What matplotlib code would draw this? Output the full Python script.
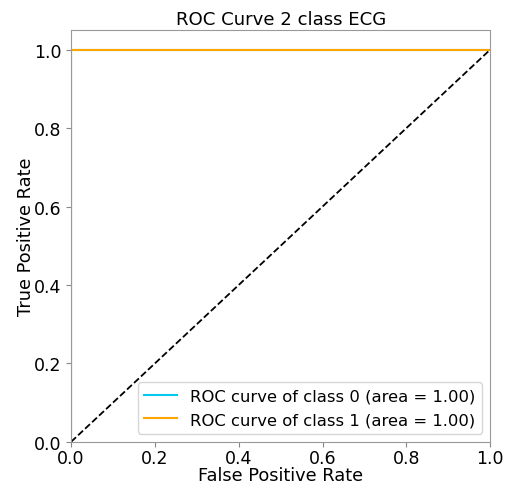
import numpy as np
import matplotlib.pyplot as plt

# ROC points for each class
fpr_class0 = [0.0, 0.0, 1.0]
tpr_class0 = [0.0, 1.0, 1.0]
fpr_class1 = [0.0, 0.0, 1.0]
tpr_class1 = [0.0, 1.0, 1.0]
auc_scores = [1.00, 1.00]
colors = ['#00c8f0', 'orange']

plt.rcParams['font.size'] = 12.5

fig = plt.figure(figsize=(5.08, 4.85), dpi=100)
ax = fig.add_axes([0.140, 0.087, 0.825, 0.849])

curves = [(fpr_class0, tpr_class0), (fpr_class1, tpr_class1)]
for i, (fpr, tpr) in enumerate(curves):
    ax.plot(fpr, tpr, color=colors[i], lw=1.5,
            label='ROC curve of class {0} (area = {1:0.2f})'.format(i, auc_scores[i]))

ax.plot([0, 1], [0, 1], 'k--', lw=1.3)
ax.set_xlim([0.0, 1.0])
ax.set_ylim([0.0, 1.05])
ax.set_xlabel('False Positive Rate', fontsize=12.8, labelpad=-1)
ax.set_ylabel('True Positive Rate', fontsize=12.8, labelpad=-1)
ax.set_title('ROC Curve 2 class ECG', fontsize=13.1, pad=4)
ax.tick_params(labelsize=12.5, color='#888888')
ax.tick_params(axis='x', pad=2)
ax.legend(loc='lower right', fontsize=11.8, borderaxespad=0.5)
for s in ax.spines.values():
    s.set_color('#999999')

fig.savefig('out.png', dpi=100)
